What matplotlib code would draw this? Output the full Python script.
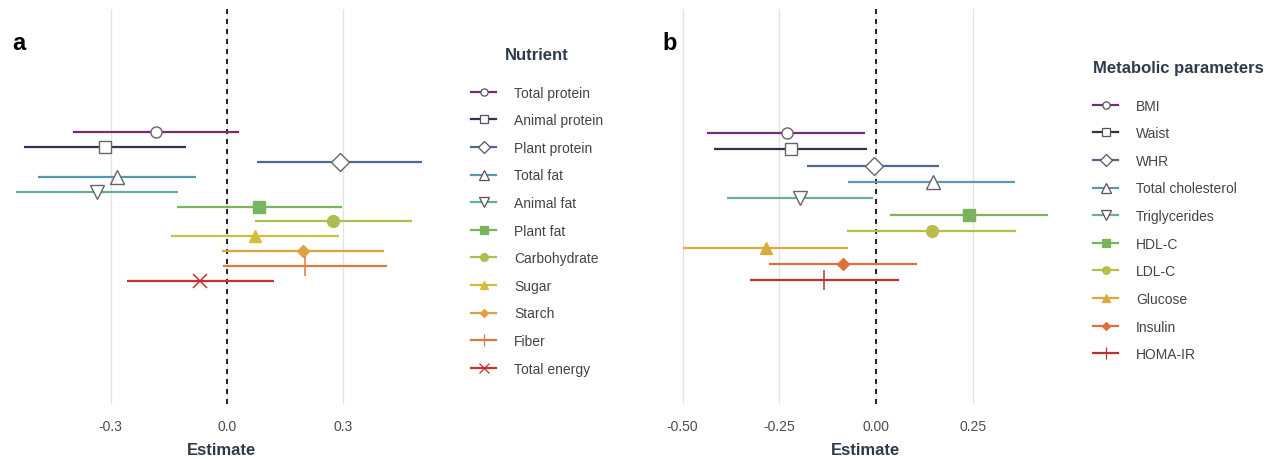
import matplotlib
matplotlib.use("Agg")
import matplotlib.pyplot as plt
from matplotlib.lines import Line2D

plt.rcParams['font.family'] = ['Liberation Sans', 'DejaVu Sans']

# panel a : nutrients
nutrients = ["Total protein", "Animal protein", "Plant protein", "Total fat", "Animal fat",
             "Plant fat", "Carbohydrate", "Sugar", "Starch", "Fiber", "Total energy"]
est_a = [-0.183, -0.314, 0.291, -0.283, -0.335, 0.083, 0.273, 0.072, 0.196, 0.201, -0.070]
lo_a = [-0.397, -0.523, 0.077, -0.487, -0.544, -0.129, 0.072, -0.144, -0.013, -0.010, -0.258]
hi_a = [0.031, -0.106, 0.502, -0.080, -0.126, 0.296, 0.477, 0.288, 0.405, 0.412, 0.121]
ticks_a = [-0.3, 0.0, 0.3]
ticklabels_a = ["-0.3", "0.0", "0.3"]

# panel b : metabolic parameters
params = ["BMI", "Waist", "WHR", "Total cholesterol", "Triglycerides",
          "HDL-C", "LDL-C", "Glucose", "Insulin", "HOMA-IR"]
est_b = [-0.230, -0.220, -0.005, 0.147, -0.196, 0.240, 0.145, -0.284, -0.085, -0.134]
lo_b = [-0.437, -0.419, -0.178, -0.072, -0.385, 0.036, -0.075, -0.499, -0.276, -0.326]
hi_b = [-0.028, -0.023, 0.163, 0.359, -0.008, 0.444, 0.362, -0.072, 0.106, 0.059]
ticks_b = [-0.50, -0.25, 0.00, 0.25]
ticklabels_b = ["-0.50", "-0.25", "0.00", "0.25"]

colors_a = ['#762B74', '#3A2D58', '#4B6896', '#5796B0', '#66AE9C', '#78B561',
            '#A8C04E', '#D3BD3C', '#DFA042', '#DC7A3E', '#C8302F']
colors_b = ['#772C78', '#33304C', '#4D6895', '#5B9BAF', '#6CAF98', '#7BB35D',
            '#B7BF48', '#D9AA3E', '#E0703A', '#B8352E']
# (marker, open?, size)
styles = [('o', True, 8), ('s', True, 8.5), ('D', True, 9), ('^', True, 10), ('v', True, 10),
          ('s', False, 8.5), ('o', False, 8.5), ('^', False, 9), ('D', False, 6.5),
          ('|', False, 14), ('x', False, 10)]
styles_b = styles[:5] + styles[5:9] + [styles[9]]

W, H = 1278, 460
fig = plt.figure(figsize=(W / 100, H / 100), dpi=100)


def forest(ax, names, est, lo, hi, colors, stl, ticks, ticklabels, row_px, px0, upx):
    n = len(names)
    handles = []
    for i in range(n):
        m, hollow, ms = stl[i]
        c = colors[i]
        fc = 'white' if hollow else c
        ax.plot([lo[i], hi[i]], [i, i], color=c, lw=1.6, solid_capstyle='butt', zorder=2)
        ax.plot(est[i], i, marker=m, ms=ms, mfc=fc, mec=c if not hollow else '#666666',
                mew=1.0 if m not in ('|', 'x') else 1.1, ls='none', zorder=3)
        handles.append(Line2D([0], [0], color=c, lw=1.6, marker=m, ms=ms * 0.65,
                              mfc=fc, mec=c if not hollow else '#555555', mew=0.9))
    ax.axvline(0, color='black', ls=(0, (3, 3)), lw=1.2, zorder=1)
    ax.set_xticks(ticks)
    ax.set_xticklabels(ticklabels)
    ax.grid(axis='x', color='#e3e3e3', lw=0.9)
    ax.set_axisbelow(True)
    ax.set_yticks([])
    for s in ax.spines.values():
        s.set_visible(False)
    ax.tick_params(axis='x', length=0, labelsize=10, labelcolor='#4d4d4d', pad=11)
    ax.set_xlabel("Estimate", fontsize=12, fontweight='bold', color='#2f3b4b', labelpad=6)
    # axis position from pixel extents
    left, right = ax.get_position().x0 * W, ax.get_position().x1 * W
    ax.set_xlim((left - px0) / upx, (right - px0) / upx)
    half = 395 / row_px / 2
    mid = (n - 1) / 2
    ax.set_ylim(mid + half, mid - half)
    return handles


ax1 = fig.add_axes([0 / W, 55 / H, 442 / W, 395 / H])
h1 = forest(ax1, nutrients, est_a, lo_a, hi_a, colors_a, styles, ticks_a, ticklabels_a,
            14.9, 227, 388)
ax2 = fig.add_axes([665 / W, 55 / H, 401 / W, 395 / H])
h2 = forest(ax2, params, est_b, lo_b, hi_b, colors_b, styles_b, ticks_b, ticklabels_b,
            16.4, 876, 387)

for h, names, title, x, y, al in [(h1, nutrients, "Nutrient", 471, 48, 'center'),
                                  (h2, params, "Metabolic parameters", 1093, 61, 'left')]:
    leg = fig.legend(h, names, title=title, loc='upper left',
                     bbox_to_anchor=(x / W, 1 - y / H), frameon=False,
                     fontsize=10, handlelength=1.8, handletextpad=1.3,
                     labelspacing=0.98, borderpad=0, borderaxespad=0, alignment=al)
    leg.get_title().set_fontweight('bold')
    leg.get_title().set_fontsize(12)
    leg.get_title().set_color('#2f3b4b')
    leg._legend_box.sep = 17
    for t in leg.get_texts():
        t.set_color('#444444')

fig.text(12 / W, 1 - 43 / H, "a", fontsize=17, fontweight='bold', va='center')
fig.text(662 / W, 1 - 43 / H, "b", fontsize=17, fontweight='bold', va='center')

fig.savefig("out.png", dpi=100)
